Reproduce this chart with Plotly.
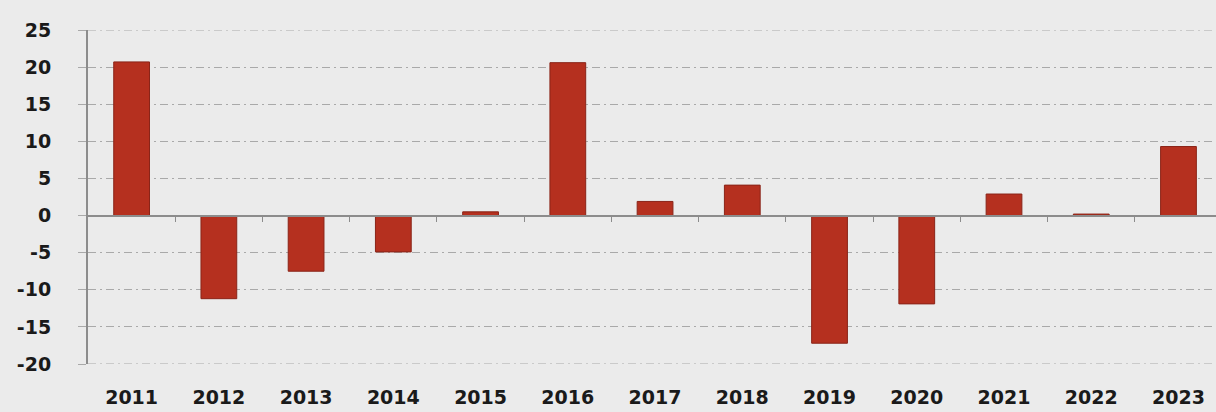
import plotly.graph_objects as go

years = ["2011", "2012", "2013", "2014", "2015", "2016", "2017",
         "2018", "2019", "2020", "2021", "2022", "2023"]
values = [20.7, -11.2, -7.5, -4.9, 0.5, 20.6, 1.9, 4.1, -17.2, -11.9, 2.9, 0.2, 9.3]
y_ticks = [-20, -15, -10, -5, 0, 5, 10, 15, 20, 25]
y_labels = ["-20", "-15", "-10", "-5", "0", "5", "10", "15", "20", "25"]

BG = "#ebebeb"
BAR = "#b5301f"
GRID = "#a9a9a9"
AXIS = "#8c8c8c"
DASH = "8px,4px,2px,4px"
FONT = dict(family="DejaVu Sans", size=19, color="#1a1a1a", weight="bold")

n = len(years)
xr = [-0.5, n - 0.57]
yr = [y_ticks[0], y_ticks[-1]]

fig = go.Figure()
fig.add_trace(go.Bar(
    x=list(range(n)), y=values, width=0.41,
    marker=dict(color=BAR, line=dict(color="#8a2418", width=1)),
    showlegend=False, hoverinfo="skip",
))
# invisible trace for the zero-line tick axis
fig.add_trace(go.Scatter(x=[0], y=[0], xaxis="x2", mode="markers",
                         marker=dict(opacity=0), showlegend=False, hoverinfo="skip"))

# gridlines at the range ends (plotly omits those)
for yv in (yr[0], yr[1]):
    fig.add_shape(type="line", xref="paper", x0=0, x1=1, yref="y", y0=yv, y1=yv,
                  line=dict(color=GRID, width=1, dash=DASH), layer="below")

fig.update_layout(
    width=1216, height=412,
    margin=dict(l=88, r=0, t=30, b=48),
    paper_bgcolor=BG, plot_bgcolor=BG,
    font=FONT,
    xaxis=dict(
        range=xr, tickmode="array", tickvals=list(range(n)), ticktext=years,
        showgrid=False, zeroline=False, showline=False, ticks="",
        ticklabelstandoff=20, tickfont=FONT,
    ),
    xaxis2=dict(
        overlaying="x", anchor="free", position=(0 - yr[0]) / (yr[1] - yr[0]), range=xr,
        tickmode="array", tickvals=[i + 0.5 for i in range(n - 1)],
        showticklabels=False, ticks="outside", ticklen=5, tickwidth=1.2,
        tickcolor=AXIS, showline=True, linecolor=AXIS, linewidth=2,
        showgrid=False, zeroline=False,
    ),
    yaxis=dict(
        range=yr, tickmode="array", tickvals=y_ticks, ticktext=y_labels,
        showgrid=True, gridcolor=GRID, gridwidth=1, griddash=DASH,
        zeroline=False, showline=True, linecolor=AXIS, linewidth=2,
        ticks="outside", ticklen=8, tickcolor=GRID, tickwidth=1,
        ticklabelstandoff=23, tickfont=FONT,
    ),
)

fig.write_html(
    "out.html",
    config={"displayModeBar": False},
    post_script="document.body.style.margin='0';document.body.style.background='#ebebeb';",
)
